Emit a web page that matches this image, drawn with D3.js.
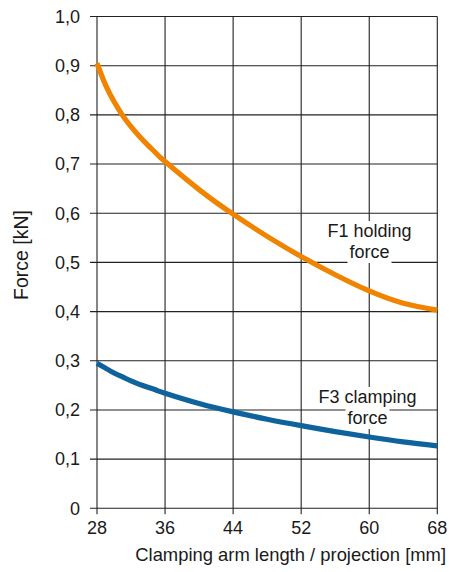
<!DOCTYPE html>
<html><head><meta charset="utf-8">
<script src="https://cdn.jsdelivr.net/npm/d3@7"></script>
<style>
html,body{margin:0;padding:0;background:#fff;}
svg text{font-family:"Liberation Sans",Arial,Helvetica,sans-serif;fill:#1a1a1a;}
</style></head>
<body><svg id="c" width="449" height="572"></svg>
<script>
const xTicks = [28, 36, 44, 52, 60, 68];
const yTicks = [0, 0.1, 0.2, 0.3, 0.4, 0.5, 0.6, 0.7, 0.8, 0.9, 1.0];
const armLength = [28, 29, 30, 31, 32, 33, 34, 35, 36, 40, 44, 48, 52, 56, 60, 64, 68];
const holdingForce = [0.905, 0.861, 0.827, 0.799, 0.776, 0.756, 0.738, 0.721, 0.705, 0.648, 0.598, 0.553, 0.512, 0.475, 0.442, 0.417, 0.403];
const clampingForce = [0.295, 0.285, 0.275, 0.267, 0.259, 0.252, 0.246, 0.240, 0.234, 0.213, 0.196, 0.181, 0.168, 0.156, 0.145, 0.135, 0.127];
const seriesLabels = [["F1 holding", "force"], ["F3 clamping", "force"]];
const xTitle = "Clamping arm length / projection [mm]";
const yTitle = "Force [kN]";

const svg = d3.select("#c");
const x = d3.scaleLinear().domain([28, 68]).range([97, 437.3]);
const y = d3.scaleLinear().domain([0, 1]).range([508.3, 16.5]);
const fmt = d => d === 0 ? "0" : d3.format(".1f")(d).replace(".", ",");

// grid
const g = svg.append("g");
g.selectAll("line.h").data(yTicks).enter().append("line")
  .attr("x1", x(28) - 7).attr("x2", x(68))
  .attr("y1", d => y(d)).attr("y2", d => y(d))
  .attr("stroke", "#222").attr("stroke-width", 1.1);
g.selectAll("line.v").data(xTicks).enter().append("line")
  .attr("x1", d => x(d)).attr("x2", d => x(d))
  .attr("y1", y(1)).attr("y2", y(0) + 6)
  .attr("stroke", "#222").attr("stroke-width", 1.1);

// tick labels
svg.append("g").selectAll("text").data(yTicks).enter().append("text")
  .attr("x", 80).attr("y", d => y(d)).attr("dy", "0.35em")
  .attr("text-anchor", "end").attr("font-size", 18).text(fmt);
svg.append("g").selectAll("text").data(xTicks).enter().append("text")
  .attr("x", d => x(d)).attr("y", 534)
  .attr("text-anchor", "middle").attr("font-size", 18).text(d => d);

// titles
svg.append("text").attr("x", 446).attr("y", 561).attr("text-anchor", "end")
  .attr("font-size", 18.4).text(xTitle);
svg.append("text").attr("transform", "translate(28,255) rotate(-90)")
  .attr("text-anchor", "middle").attr("font-size", 19.5).text(yTitle);

// labels with white background
function label(lines, cx, by) {
  const lg = svg.append("g");
  lines.forEach((t, i) => {
    const tx = lg.append("text").attr("x", cx).attr("y", by + i * 21)
      .attr("text-anchor", "middle").attr("font-size", 18).text(t);
    const b = tx.node().getBBox();
    lg.insert("rect", "text").attr("x", b.x - 2).attr("y", b.y).attr("width", b.width + 4)
      .attr("height", b.height + 1).attr("fill", "#fff");
  });
}
label(seriesLabels[0], 369.5, 237);
label(seriesLabels[1], 367.5, 403);

// curves
const line = d3.line().x(d => x(d[0])).y(d => y(d[1])).curve(d3.curveNatural);
svg.append("path").datum(armLength.map((a, i) => [a, holdingForce[i]]))
  .attr("d", line).attr("fill", "none").attr("stroke", "#f08300").attr("stroke-width", 5.2);
svg.append("path").datum(armLength.map((a, i) => [a, clampingForce[i]]))
  .attr("d", line).attr("fill", "none").attr("stroke", "#0f639c").attr("stroke-width", 5.2);
</script></body></html>
